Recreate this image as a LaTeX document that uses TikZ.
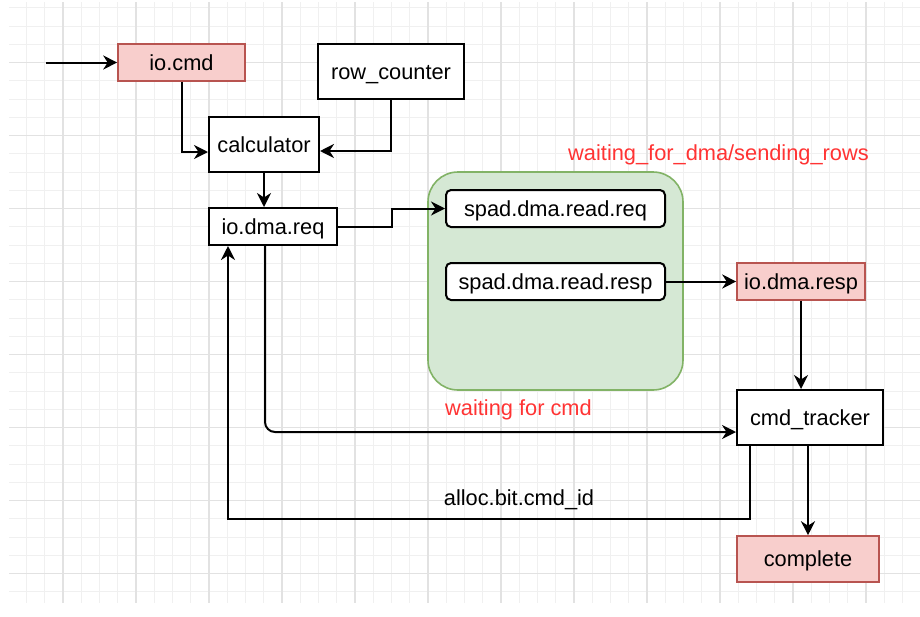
\documentclass[tikz,border=0pt]{standalone}
\usepackage{fontspec}
\setmainfont{Liberation Sans}
\usetikzlibrary{arrows.meta,calc}
\definecolor{redfill}{HTML}{F8CECC}
\definecolor{redline}{HTML}{B85450}
\definecolor{greenfill}{HTML}{D5E8D4}
\definecolor{greenline}{HTML}{82B366}
\definecolor{labelred}{HTML}{FF3333}
\definecolor{gridminor}{HTML}{F0F0F0}
\definecolor{gridmajor}{HTML}{E2E2E2}
\tikzset{
  box/.style={draw=black, line width=2pt, fill=white, inner sep=0pt, text height=18pt, text depth=2.7pt, font=\fontsize{21.8}{26}\selectfont},
  redbox/.style={box, draw=redline, fill=redfill, line width=1.6pt},
  roundbox/.style={box, rounded corners=5pt},
  container/.style={draw=greenline, fill=greenfill, line width=1.6pt, rounded corners=30pt, inner sep=0pt},
  arr/.style={line width=2pt, -{Stealth[length=14pt,width=14pt,inset=4.5pt]}},
  redlabel/.style={text=labelred, font=\fontsize{21.8}{26}\selectfont, inner sep=0pt, text height=14pt, text depth=3pt},
  plainlabel/.style={text=black, font=\fontsize{21.8}{26}\selectfont, inner sep=0pt, text height=14pt, text depth=3pt}
}
\begin{document}
\begin{tikzpicture}[x=1pt,y=-1pt]
\useasboundingbox (0,0) rectangle (920,616);
\fill[white] (0,0) rectangle (920,616);
% grid
\begin{scope}
\clip (9,2) rectangle (920,603);
\foreach \i in {0,...,50} {\draw[gridminor, line width=1pt] ({8.25+18.25*\i},2) -- ({8.25+18.25*\i},603);}
\foreach \j in {0,...,33} {\draw[gridminor, line width=1pt] (9,{7.75+18.25*\j}) -- (920,{7.75+18.25*\j});}
\foreach \i in {0,...,12} {\draw[gridmajor, line width=1.2pt] ({-10+73*\i},2) -- ({-10+73*\i},603);}
\foreach \j in {0,...,8} {\draw[gridmajor, line width=1.2pt] (9,{-10.25+73*\j}) -- (920,{-10.25+73*\j});}
\end{scope}

% container
\node[container, minimum width=255pt, minimum height=218pt] (grp) at (555.5,281) {};

% nodes
\node[redbox, minimum width=127pt, minimum height=37pt] (iocmd) at (181.5,62.5) {io.cmd};
\node[box, minimum width=146pt, minimum height=55pt] (rowc) at (391,71.5) {row\_counter};
\node[box, minimum width=110pt, minimum height=55pt] (calc) at (264,144.5) {calculator};
\node[box, minimum width=128pt, minimum height=37pt] (dmareq) at (273,226.5) {io.dma.req};
\node[roundbox, minimum width=219pt, minimum height=37pt] (spreq) at (555.5,208.5) {spad.dma.read.req};
\node[roundbox, minimum width=219pt, minimum height=37pt] (spresp) at (555.5,281.5) {spad.dma.read.resp};
\node[redbox, minimum width=128pt, minimum height=37pt] (dmaresp) at (801,281.5) {io.dma.resp};
\node[box, minimum width=146pt, minimum height=55pt] (tracker) at (810,417.5) {cmd\_tracker};
\node[redbox, minimum width=142pt, minimum height=46pt] (complete) at (808,559) {complete};

% labels
\node[redlabel] (lwait) at (718.5,155) {waiting\_for\_dma/sending\_rows};
\node[redlabel] (lcmd) at (518.5,410) {waiting for cmd};
\node[plainlabel] (lalloc) at (519,500) {alloc.bit.cmd\_id};

% connectors
\coordinate (start) at (46,62.5);
\draw[arr] (start) -- (iocmd.west);
\draw[arr] (iocmd.south) |- ([yshift=-7.5pt]calc.west);
\draw[arr] (rowc.south) |- ([yshift=-6.5pt]calc.east);
\draw[arr] (calc.south) -- (calc.south |- dmareq.north);
\draw[arr] (dmareq.east) -| ($(dmareq.east)!0.5!(spreq.west)$) |- (spreq.west);
\draw[arr] (spresp.east) -- (dmaresp.west);
\draw[arr] (dmaresp.south) -- (dmaresp.south |- tracker.north);
\draw[arr, rounded corners=10pt] ([xshift=-8pt]dmareq.south) |- ([yshift=-14.5pt]tracker.west);
\draw[arr] ([xshift=-60pt]tracker.south) -- ++(0,73) -| ([xshift=-45pt]dmareq.south);
\draw[arr] (complete.north |- tracker.south) -- (complete.north);
\end{tikzpicture}
\end{document}
